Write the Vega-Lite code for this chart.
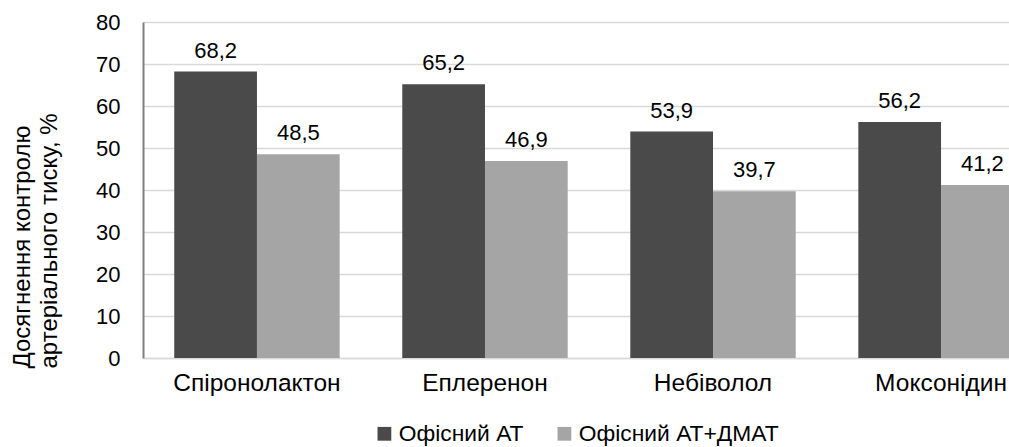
{
  "$schema": "https://vega.github.io/schema/vega-lite/v6.json",
  "autosize": {"type": "none"},
  "width": 866,
  "height": 336,
  "padding": {"left": 143, "top": 22, "right": 0, "bottom": 89},
  "background": "white",
  "config": {
    "locale": {"number": {"decimal": ",", "thousands": " ", "grouping": [3], "currency": ["", ""]}},
    "font": "Liberation Sans",
    "view": {"stroke": null}
  },
  "data": {
    "values": [
      {"drug": "Спіронолактон", "series": "Офісний АТ", "v": 68.2},
      {"drug": "Спіронолактон", "series": "Офісний АТ+ДМАТ", "v": 48.5},
      {"drug": "Еплеренон", "series": "Офісний АТ", "v": 65.2},
      {"drug": "Еплеренон", "series": "Офісний АТ+ДМАТ", "v": 46.9},
      {"drug": "Небіволол", "series": "Офісний АТ", "v": 53.9},
      {"drug": "Небіволол", "series": "Офісний АТ+ДМАТ", "v": 39.7},
      {"drug": "Моксонідин", "series": "Офісний АТ", "v": 56.2},
      {"drug": "Моксонідин", "series": "Офісний АТ+ДМАТ", "v": 41.2}
    ]
  },
  "encoding": {
    "x": {
      "field": "drug", "type": "nominal",
      "sort": ["Спіронолактон", "Еплеренон", "Небіволол", "Моксонідин"],
      "scale": {"range": [0, 912], "paddingInner": 0.2745, "paddingOuter": 0.137},
      "axis": {
        "title": null, "labelAngle": 0, "labelFontSize": 24.5, "labelColor": "#000",
        "labelPadding": 13, "ticks": false, "domainColor": "#d9d9d9", "domainWidth": 1.5,
        "labelFont": "Liberation Sans", "labelLimit": 0
      }
    },
    "xOffset": {
      "field": "series", "type": "nominal",
      "sort": ["Офісний АТ", "Офісний АТ+ДМАТ"],
      "scale": {"paddingInner": 0, "paddingOuter": 0}
    },
    "y": {
      "field": "v", "type": "quantitative",
      "scale": {"domain": [0, 80], "nice": false},
      "axis": {
        "values": [0, 10, 20, 30, 40, 50, 60, 70, 80],
        "title": ["Досягнення контролю", "артеріального тиску, %"],
        "titleFontSize": 24, "titleFontWeight": "normal", "titleColor": "#000",
        "titleAngle": -90, "titleAlign": "left", "titleBaseline": "alphabetic",
        "titleX": -114, "titleY": 346, "titleLineHeight": 27,
        "titleFont": "Liberation Sans", "titleLimit": 0,
        "labelFontSize": 22, "labelColor": "#000", "labelPadding": 23, "ticks": false,
        "domainColor": "#808080", "domainWidth": 2,
        "gridColor": "#d9d9d9", "gridWidth": 1.5,
        "labelFont": "Liberation Sans"
      }
    }
  },
  "layer": [
    {
      "mark": {"type": "bar", "clip": true},
      "encoding": {
        "color": {
          "field": "series", "type": "nominal",
          "sort": ["Офісний АТ", "Офісний АТ+ДМАТ"],
          "scale": {"domain": ["Офісний АТ", "Офісний АТ+ДМАТ"], "range": ["#4a4a4a", "#a5a5a5"]},
          "legend": {
            "title": null, "orient": "none", "direction": "horizontal",
            "legendX": 230, "legendY": 400,
            "symbolType": "square", "symbolSize": 190, "symbolStrokeWidth": 0,
            "labelFontSize": 22.8, "labelColor": "#000", "labelOffset": 3,
            "columnPadding": 29, "labelFont": "Liberation Sans", "labelLimit": 0
          }
        }
      }
    },
    {
      "mark": {"type": "text", "baseline": "alphabetic", "dy": -14, "fontSize": 22, "color": "#000", "font": "Liberation Sans"},
      "encoding": {
        "text": {"field": "v", "type": "quantitative", "format": ".1f"}
      }
    }
  ]
}
